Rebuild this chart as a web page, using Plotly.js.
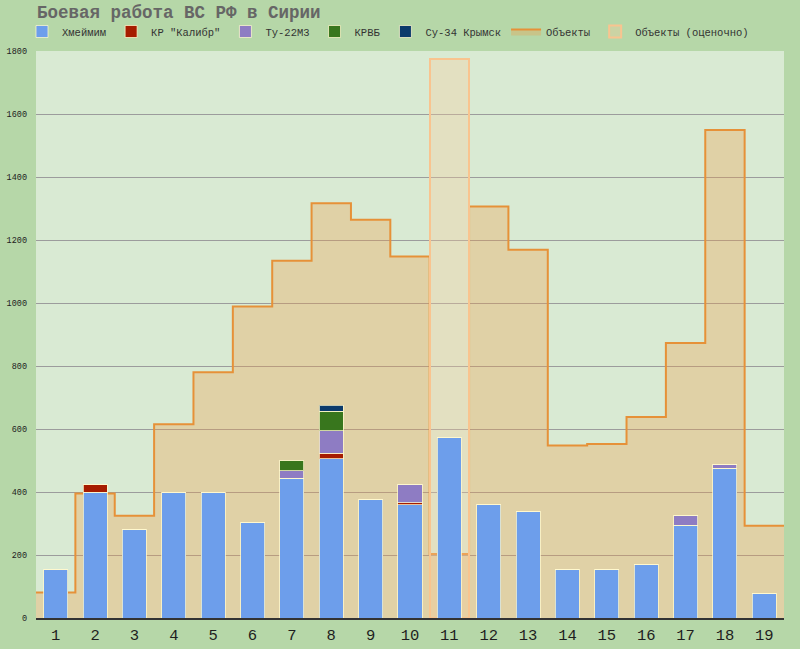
<!DOCTYPE html>
<html>
<head>
<meta charset="utf-8">
<script src="https://cdn.plot.ly/plotly-3.0.1.min.js"></script>
<style>html,body{margin:0;padding:0;background:#b6d7a8;}#chart{width:800px;height:649px;}</style>
</head>
<body>
<div id="chart"></div>
<script>
// Categories (weeks)
const categories = [1,2,3,4,5,6,7,8,9,10,11,12,13,14,15,16,17,18,19];
const tickLabels = ['1','2','3','4','5','6','7','8','9','10','11','12','13','14','15','16','17','18','19'];

// Stacked bar series
const hmeimim = [153,400,282,400,398,303,443,505,375,360,573,360,337,153,153,170,295,475,77];
const kalibr  = [0,24,0,0,0,0,0,18,0,6,0,0,0,0,0,0,0,0,0];
const tu22m3  = [0,0,0,0,0,0,24,71,0,58,0,0,0,0,0,0,29,12,0];
const krvb    = [0,0,0,0,0,0,34,63,0,0,0,0,0,0,0,0,0,0,0];
const su34    = [0,0,0,0,0,0,0,19,0,0,0,0,0,0,0,0,0,0,0];

// Objects (step area) and estimated objects
const objects = [81,395,325,615,780,989,1134,1317,1264,1148,203,1306,1169,548,552,638,873,1549,293];
const estimateCategory = [11];
const estimateValue = [1776];

const FONT = '"Liberation Mono", "DejaVu Sans Mono", monospace';

function barTrace(name, vals, color) {
  return {
    type: 'bar', name: name, x: categories, y: vals,
    xaxis: 'x3', yaxis: 'y3',
    marker: {color: color, line: {color: 'rgba(255,248,205,0.75)', width: 1}},
    hoverinfo: 'x+y+name'
  };
}

// step-line coordinates derived from category boundaries
const stepX = categories.map(c => c - 0.5).concat([categories[categories.length-1] + 0.5]);
const stepY = objects.concat([objects[objects.length-1]]);

const data = [
  barTrace('Хмеймим', hmeimim, '#6d9eeb'),
  barTrace('КР "Калибр"', kalibr, '#a61c00'),
  barTrace('Ту-22М3', tu22m3, '#8e7cc3'),
  barTrace('КРВБ', krvb, '#38761d'),
  barTrace('Су-34 Крымск', su34, '#0b3a6b'),
  {
    type: 'scatter', mode: 'lines', name: 'Объекты',
    x: stepX, y: stepY, xaxis: 'x', yaxis: 'y',
    line: {shape: 'hv', color: '#e69138', width: 2},
    fill: 'tozeroy', fillcolor: 'rgba(240,155,70,0.32)'
  },
  {
    type: 'bar', name: 'Объекты (оценочно)',
    x: estimateCategory, y: estimateValue, width: 1,
    xaxis: 'x2', yaxis: 'y2',
    marker: {color: 'rgba(249,203,156,0.32)', line: {color: '#f9c48f', width: 2}}
  }
];

const xr = [0.5, 19.5];
const yr = [0, 1800];

const layout = {
  width: 800, height: 649,
  paper_bgcolor: '#b6d7a8',
  plot_bgcolor: '#d9ead3',
  margin: {l: 36, r: 16, t: 51, b: 31},
  barmode: 'stack',
  bargap: 0.39,
  showlegend: true,
  title: {
    text: 'Боевая работа ВС РФ в Сирии',
    x: 37/800, xanchor: 'left', xref: 'container',
    y: 1 - 12/649, yanchor: 'middle', yref: 'container',
    font: {family: FONT, size: 17.5, color: '#666666', weight: 'bold'}
  },
  legend: {
    orientation: 'h', x: 22/800, xref: 'container', xanchor: 'left',
    y: 1 - 17/649, yref: 'container', yanchor: 'top',
    font: {family: FONT, size: 10.5, color: '#333333'},
    bgcolor: 'rgba(0,0,0,0)', traceorder: 'normal', itemclick: false
  },
  xaxis: {
    range: xr, tickvals: categories, ticktext: tickLabels,
    showgrid: false, zeroline: false, ticks: '', ticklabelstandoff: 2,
    showline: true, linecolor: '#333333', linewidth: 1.5,
    tickfont: {family: FONT, size: 15.5, color: '#1e1e1e'}, fixedrange: true
  },
  yaxis: {
    range: yr, dtick: 200, tick0: 0,
    showgrid: true, gridcolor: '#9c9c9c', gridwidth: 1,
    zeroline: false, ticks: '', ticklabelstandoff: 8,
    tickfont: {family: FONT, size: 8.5, color: '#222222'}, fixedrange: true
  },
  xaxis2: {overlaying: 'x', range: xr, visible: false, fixedrange: true},
  yaxis2: {overlaying: 'y', range: yr, visible: false, fixedrange: true},
  xaxis3: {overlaying: 'x', range: xr, visible: false, fixedrange: true},
  yaxis3: {overlaying: 'y', range: yr, visible: false, fixedrange: true}
};

Plotly.newPlot('chart', data, layout, {displayModeBar: false, staticPlot: true});
</script>
</body>
</html>
